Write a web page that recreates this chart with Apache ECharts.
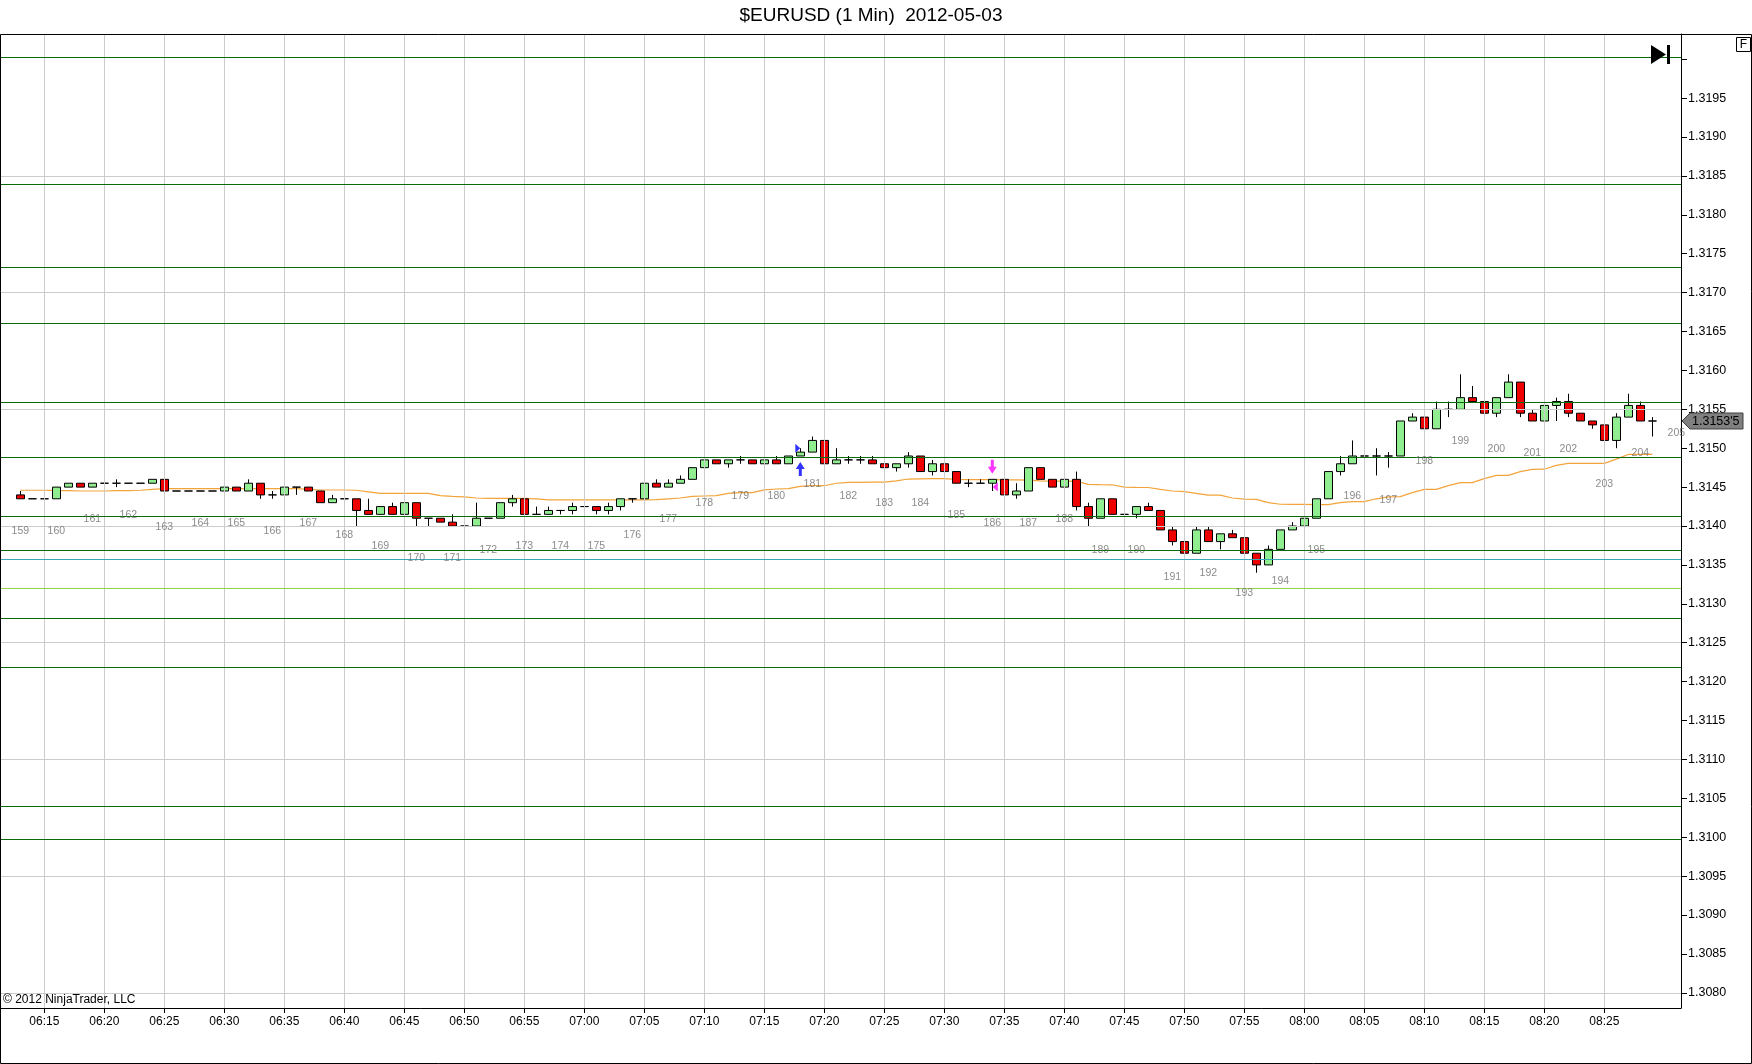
<!DOCTYPE html>
<html>
<head>
<meta charset="utf-8">
<title>$EURUSD (1 Min) 2012-05-03</title>
<script src="https://cdn.jsdelivr.net/npm/echarts@6.0.0/dist/echarts.min.js"></script>
<style>
html,body{margin:0;padding:0;background:#ffffff;}
#chart{width:1752px;height:1064px;}
</style>
</head>
<body>
<div id="chart"></div>
<script>
// ---------------- DATA ----------------
const chartTitle = '$EURUSD (1 Min)  2012-05-03';
const copyright = '\u00a9 2012 NinjaTrader, LLC';

const times = [
'06:13','06:14','06:15','06:16','06:17','06:18','06:19','06:20','06:21','06:22',
'06:23','06:24','06:25','06:26','06:27','06:28','06:29','06:30','06:31','06:32',
'06:33','06:34','06:35','06:36','06:37','06:38','06:39','06:40','06:41','06:42',
'06:43','06:44','06:45','06:46','06:47','06:48','06:49','06:50','06:51','06:52',
'06:53','06:54','06:55','06:56','06:57','06:58','06:59','07:00','07:01','07:02',
'07:03','07:04','07:05','07:06','07:07','07:08','07:09','07:10','07:11','07:12',
'07:13','07:14','07:15','07:16','07:17','07:18','07:19','07:20','07:21','07:22',
'07:23','07:24','07:25','07:26','07:27','07:28','07:29','07:30','07:31','07:32',
'07:33','07:34','07:35','07:36','07:37','07:38','07:39','07:40','07:41','07:42',
'07:43','07:44','07:45','07:46','07:47','07:48','07:49','07:50','07:51','07:52',
'07:53','07:54','07:55','07:56','07:57','07:58','07:59','08:00','08:01','08:02',
'08:03','08:04','08:05','08:06','08:07','08:08','08:09','08:10','08:11','08:12',
'08:13','08:14','08:15','08:16','08:17','08:18','08:19','08:20','08:21','08:22',
'08:23','08:24','08:25','08:26','08:27','08:28','08:29'];

const opens = [
1.31440,1.31435,1.31435,1.31435,1.31450,1.31455,1.31450,1.31455,1.31455,1.31455,
1.31455,1.31455,1.31460,1.31445,1.31445,1.31445,1.31445,1.31445,1.31450,1.31445,
1.31455,1.31440,1.31440,1.31450,1.31450,1.31445,1.31430,1.31435,1.31435,1.31420,
1.31415,1.31425,1.31415,1.31430,1.31410,1.31410,1.31405,1.31400,1.31400,1.31410,
1.31410,1.31430,1.31435,1.31415,1.31415,1.31420,1.31420,1.31425,1.31425,1.31420,
1.31425,1.31435,1.31435,1.31455,1.31450,1.31455,1.31460,1.31475,1.31485,1.31480,
1.31485,1.31485,1.31480,1.31485,1.31480,1.31490,1.31495,1.31510,1.31480,1.31485,
1.31485,1.31485,1.31480,1.31475,1.31480,1.31490,1.31470,1.31480,1.31470,1.31455,
1.31455,1.31455,1.31460,1.31440,1.31445,1.31475,1.31460,1.31450,1.31460,1.31425,
1.31410,1.31435,1.31415,1.31415,1.31425,1.31420,1.31395,1.31380,1.31365,1.31395,
1.31380,1.31390,1.31385,1.31365,1.31350,1.31370,1.31395,1.31400,1.31410,1.31435,
1.31470,1.31480,1.31490,1.31490,1.31490,1.31490,1.31535,1.31540,1.31525,1.31550,
1.31550,1.31565,1.31560,1.31545,1.31565,1.31585,1.31545,1.31535,1.31555,1.31560,
1.31545,1.31535,1.31530,1.31510,1.31540,1.31555,1.31535];

const highs = [
1.31445,1.31435,1.31435,1.31450,1.31455,1.31455,1.31455,1.31455,1.31460,1.31455,
1.31455,1.31460,1.31460,1.31445,1.31445,1.31445,1.31445,1.31460,1.31450,1.31460,
1.31455,1.31445,1.31450,1.31450,1.31450,1.31445,1.31440,1.31435,1.31435,1.31435,
1.31425,1.31430,1.31430,1.31430,1.31410,1.31410,1.31415,1.31400,1.31430,1.31410,
1.31430,1.31440,1.31435,1.31425,1.31425,1.31420,1.31430,1.31430,1.31425,1.31430,
1.31435,1.31435,1.31455,1.31460,1.31460,1.31465,1.31475,1.31485,1.31485,1.31485,
1.31490,1.31485,1.31485,1.31490,1.31490,1.31500,1.31515,1.31510,1.31500,1.31490,
1.31490,1.31490,1.31480,1.31480,1.31495,1.31490,1.31485,1.31480,1.31470,1.31460,
1.31460,1.31460,1.31460,1.31455,1.31475,1.31475,1.31460,1.31480,1.31470,1.31430,
1.31435,1.31435,1.31420,1.31425,1.31430,1.31420,1.31400,1.31380,1.31400,1.31400,
1.31390,1.31395,1.31390,1.31365,1.31375,1.31395,1.31405,1.31410,1.31435,1.31470,
1.31490,1.31510,1.31495,1.31500,1.31495,1.31535,1.31545,1.31570,1.31560,1.31560,
1.31595,1.31580,1.31560,1.31565,1.31595,1.31585,1.31550,1.31555,1.31565,1.31570,
1.31545,1.31535,1.31530,1.31545,1.31570,1.31560,1.31540];

const lows = [
1.31435,1.31435,1.31435,1.31435,1.31450,1.31450,1.31450,1.31455,1.31450,1.31455,
1.31455,1.31455,1.31440,1.31445,1.31445,1.31445,1.31445,1.31445,1.31445,1.31445,
1.31435,1.31435,1.31440,1.31440,1.31445,1.31430,1.31430,1.31430,1.31400,1.31415,
1.31415,1.31415,1.31410,1.31400,1.31400,1.31405,1.31400,1.31385,1.31400,1.31410,
1.31410,1.31425,1.31415,1.31415,1.31415,1.31415,1.31415,1.31420,1.31415,1.31415,
1.31420,1.31430,1.31430,1.31450,1.31450,1.31455,1.31460,1.31470,1.31480,1.31475,
1.31480,1.31480,1.31480,1.31480,1.31480,1.31490,1.31495,1.31475,1.31480,1.31480,
1.31480,1.31480,1.31470,1.31470,1.31475,1.31470,1.31465,1.31465,1.31455,1.31450,
1.31455,1.31445,1.31440,1.31435,1.31445,1.31460,1.31450,1.31450,1.31420,1.31400,
1.31410,1.31415,1.31415,1.31410,1.31420,1.31395,1.31375,1.31350,1.31365,1.31380,
1.31370,1.31385,1.31355,1.31340,1.31350,1.31370,1.31395,1.31395,1.31410,1.31435,
1.31465,1.31480,1.31475,1.31465,1.31475,1.31490,1.31535,1.31525,1.31525,1.31540,
1.31550,1.31560,1.31535,1.31540,1.31565,1.31540,1.31535,1.31525,1.31535,1.31540,
1.31535,1.31525,1.31495,1.31500,1.31540,1.31535,1.31515];

const closes = [
1.31435,1.31435,1.31435,1.31450,1.31455,1.31450,1.31455,1.31455,1.31455,1.31455,
1.31455,1.31460,1.31445,1.31445,1.31445,1.31445,1.31445,1.31450,1.31445,1.31455,
1.31440,1.31440,1.31450,1.31450,1.31445,1.31430,1.31435,1.31435,1.31420,1.31415,
1.31425,1.31415,1.31430,1.31410,1.31410,1.31405,1.31400,1.31400,1.31410,1.31410,
1.31430,1.31435,1.31415,1.31415,1.31420,1.31420,1.31425,1.31425,1.31420,1.31425,
1.31435,1.31435,1.31455,1.31450,1.31455,1.31460,1.31475,1.31485,1.31480,1.31485,
1.31485,1.31480,1.31485,1.31480,1.31490,1.31495,1.31510,1.31480,1.31485,1.31485,
1.31485,1.31480,1.31475,1.31480,1.31490,1.31470,1.31480,1.31470,1.31455,1.31455,
1.31455,1.31460,1.31440,1.31445,1.31475,1.31460,1.31450,1.31460,1.31425,1.31410,
1.31435,1.31415,1.31415,1.31425,1.31420,1.31395,1.31380,1.31365,1.31395,1.31380,
1.31390,1.31385,1.31365,1.31350,1.31370,1.31395,1.31400,1.31410,1.31435,1.31470,
1.31480,1.31490,1.31490,1.31490,1.31490,1.31535,1.31540,1.31525,1.31550,1.31550,
1.31565,1.31560,1.31545,1.31565,1.31585,1.31545,1.31535,1.31555,1.31560,1.31545,
1.31535,1.31530,1.31510,1.31540,1.31555,1.31535,1.31535];

const sma = [
1.31446,1.31446,1.31446,1.314455,1.314455,1.31445,1.31445,1.31445,1.314455,1.314455,
1.31446,1.31447,1.31448,1.31448,1.31448,1.31448,1.31448,1.31448,1.31448,1.31448,
1.31448,1.31448,1.31448,1.31448,1.31447,1.314463,1.314463,1.314463,1.31446,1.31444,
1.31442,1.31442,1.31442,1.31442,1.31442,1.31439,1.31438,1.314375,1.31436,1.314356,
1.314356,1.314356,1.314356,1.31435,1.314335,1.314335,1.314335,1.314335,1.314335,1.314335,
1.314335,1.314335,1.314335,1.31434,1.31435,1.31436,1.31438,1.314386,1.31439,1.31442,
1.314428,1.31443,1.314465,1.314476,1.31448,1.31451,1.314518,1.314518,1.31455,1.314561,
1.314561,1.314565,1.314565,1.31458,1.314604,1.314606,1.314608,1.314608,1.314598,1.314596,
1.314596,1.314596,1.314594,1.314592,1.31459,1.31458,1.314578,1.314578,1.314575,1.314535,
1.314531,1.31453,1.3145,1.314497,1.314495,1.31447,1.31445,1.314441,1.31442,1.314398,
1.314398,1.31436,1.314345,1.314343,1.3143,1.31428,1.314278,1.314278,1.314275,1.314275,
1.3143,1.314313,1.314313,1.31435,1.314375,1.314377,1.31443,1.31447,1.314471,1.31452,
1.314557,1.314557,1.31461,1.31465,1.314651,1.3147,1.314728,1.31473,1.31478,1.314805,
1.314805,1.314805,1.314805,1.31486,1.31492,1.31492,1.31492];

const barNumbers = [159,160,161,162,163,164,165,166,167,168,169,170,171,172,173,174,175,176,177,178,179,180,
  181,182,183,184,185,186,187,188,189,190,191,192,193,194,195,196,197,198,199,200,201,202,203,204,205];
const barNumberTimes = ['06:13','06:16','06:19','06:22','06:25','06:28','06:31','06:34','06:37','06:40','06:43',
  '06:46','06:49','06:52','06:55','06:58','07:01','07:04','07:07','07:10','07:13','07:16','07:19','07:22','07:25',
  '07:28','07:31','07:34','07:37','07:40','07:43','07:46','07:49','07:52','07:55','07:58','08:01','08:04','08:07',
  '08:10','08:13','08:16','08:19','08:22','08:25','08:28','08:31'];
const pendingBarAnchor = 1.31560; // bar 205 has not printed yet

const xTickLabels = ['06:15','06:20','06:25','06:30','06:35','06:40','06:45','06:50','06:55','07:00','07:05',
  '07:10','07:15','07:20','07:25','07:30','07:35','07:40','07:45','07:50','07:55','08:00','08:05','08:10',
  '08:15','08:20','08:25'];
const yTickLabels = ['1.3080','1.3085','1.3090','1.3095','1.3100','1.3105','1.3110','1.3115','1.3120','1.3125',
  '1.3130','1.3135','1.3140','1.3145','1.3150','1.3155','1.3160','1.3165','1.3170','1.3175','1.3180','1.3185',
  '1.3190','1.3195','1.3200'];

const levelPrices = [1.32003,1.31839,1.31733,1.31661,1.31559,1.31489,1.31413,1.31369,1.31357,1.31320,
  1.31281,1.31219,1.31040,1.30997];

const signalTimes = ['07:18','07:34'];
const signalSides = ['buy','sell'];
const fillPrices = [1.31500, 1.31450];

// ---------------- STYLE ----------------
const FONT = '"Liberation Sans", Arial, sans-serif';
const levelColors = ['#0b6a0b','#0b6a0b','#0b6a0b','#0b6a0b','#0b6a0b','#0b6a0b','#0b6a0b','#0b6a0b',
  '#3aa6b8','#92d445','#0b6a0b','#0b6a0b','#0b6a0b','#0b6a0b'];

const toMin = t => { const p = t.split(':'); return (+p[0]) * 60 + (+p[1]); };
const fmtMin = v => { const m = Math.round(v); return String(Math.floor(m / 60)).padStart(2, '0') + ':' + String(m % 60).padStart(2, '0'); };

const xMin = 371.392, xMax = 511.392;
const yMin = 1.307805, yMax = 1.320324;

const xTickVals = xTickLabels.map(toMin);
const yTickVals = yTickLabels.map(Number);
const yLabelVals = yTickVals.slice(0, yTickVals.length - 1);
const grayLevels = yLabelVals.filter((_, k) => k % 3 === 0);

const candleData = times.map((t, k) => [toMin(t), opens[k], closes[k], lows[k], highs[k]]);
const smaData = times.map((t, k) => [toMin(t), sma[k]]);
const barNumData = barNumbers.map((n, k) => {
  const idx = times.indexOf(barNumberTimes[k]);
  const anchor = idx >= 0 ? lows[idx] : pendingBarAnchor;
  return { value: [toMin(barNumberTimes[k]), anchor], n: n };
});

const upArrow = 'path://M4.5,0 L9,7 L6,7 L6,14 L3,14 L3,7 L0,7 Z';
const downArrow = 'path://M3,0 L6,0 L6,7 L9,7 L4.5,14 L0,7 L3,7 Z';
const triRight = 'path://M0,0 L5,4.5 L0,9 Z';
const triLeft = 'path://M5,0 L0,4.5 L5,9 Z';
const signalData = [];
signalTimes.forEach((t, k) => {
  const idx = times.indexOf(t);
  const buy = signalSides[k] === 'buy';
  const col = buy ? '#0000ff' : '#ff00ff';
  signalData.push({ value: [toMin(t), buy ? lows[idx] : highs[idx]], symbol: buy ? upArrow : downArrow,
    symbolSize: [9, 14], symbolOffset: [0, buy ? 13 : -12.5], itemStyle: { color: col } });
  signalData.push({ value: [toMin(t), fillPrices[k]], symbol: buy ? triRight : triLeft,
    symbolSize: [5, 9], symbolOffset: [buy ? -2.5 : 3, 0], itemStyle: { color: col } });
});

const markLineBase = { silent: true, symbol: ['none', 'none'], label: { show: false }, animation: false,
  precision: 8, emphasis: { disabled: true } };

const chart = echarts.init(document.getElementById('chart'), null, { renderer: 'canvas' });

const option = {
  animation: false,
  backgroundColor: '#ffffff',
  grid: { left: 1, right: 71, top: 34, bottom: 56, containLabel: false, show: false },
  xAxis: {
    type: 'value', min: xMin, max: xMax,
    axisLine: { show: true, onZero: false, lineStyle: { color: '#000', width: 1 } },
    axisTick: { show: true, length: 5, customValues: xTickVals, lineStyle: { color: '#000' } },
    axisLabel: { show: true, customValues: xTickVals, formatter: v => fmtMin(v), margin: 8,
      color: '#000', fontSize: 12, fontFamily: FONT },
    splitLine: { show: false }
  },
  yAxis: {
    type: 'value', position: 'right', min: yMin, max: yMax,
    axisLine: { show: true, onZero: false, lineStyle: { color: '#000', width: 1 } },
    axisTick: { show: true, length: 6, customValues: yTickVals, lineStyle: { color: '#000' } },
    axisLabel: { show: true, customValues: yLabelVals, formatter: v => Number(v).toFixed(4), margin: 7,
      color: '#000', fontSize: 12.5, fontFamily: FONT, align: 'left' },
    splitLine: { show: false }
  },
  series: [
    { type: 'line', name: 'grid', data: [], silent: true, z: 1,
      markLine: Object.assign({}, markLineBase, {
        lineStyle: { color: '#cccccc', width: 1, type: 'solid' },
        data: xTickVals.map(v => ({ xAxis: v })).concat(grayLevels.map(v => ({ yAxis: v })))
      }) },
    { type: 'line', name: 'levels', data: [], silent: true, z: 2,
      markLine: Object.assign({}, markLineBase, {
        lineStyle: { width: 1, type: 'solid' },
        data: levelPrices.map((v, k) => ({ yAxis: v, lineStyle: { color: levelColors[k], width: 1, type: 'solid' } }))
      }) },
    { type: 'line', name: 'SMA', data: smaData, showSymbol: false, symbol: 'none', silent: true, z: 3,
      lineStyle: { color: '#f2a43a', width: 1.2 } },
    { type: 'candlestick', name: '$EURUSD', data: candleData, barWidth: 8, silent: true, z: 4,
      itemStyle: { color: '#90ee90', color0: '#ee0000', borderColor: '#000', borderColor0: '#000',
        borderColorDoji: '#000', borderWidth: 1 } },
    { type: 'scatter', name: 'barNumbers', data: barNumData, symbol: 'circle', symbolSize: 1, silent: true, z: 5,
      itemStyle: { color: 'rgba(0,0,0,0)' },
      label: { show: true, position: 'inside', offset: [0, 32], formatter: p => String(p.data.n),
        color: '#6e6e6e', fontSize: 10.5, fontFamily: FONT } },
    { type: 'scatter', name: 'signals', data: signalData, silent: true, z: 6 }
  ]
};
chart.setOption(option);

const lastClose = closes[closes.length - 1];
const py = chart.convertToPixel({ yAxisIndex: 0 }, lastClose);
const fx = lastClose.toFixed(5);
const tagText = fx.slice(0, fx.length - 1) + "'" + fx.slice(fx.length - 1);

chart.setOption({
  graphic: [
    { type: 'text', x: 871, y: 16, z: 10,
      style: { text: chartTitle, fontSize: 19, fontFamily: FONT, fill: '#000', align: 'center', verticalAlign: 'middle' } },
    { type: 'rect', z: 10, shape: { x: 0.5, y: 34.5, width: 1751, height: 1029 },
      style: { fill: null, stroke: '#000', lineWidth: 1 } },
    { type: 'text', x: 3, y: 1000, z: 10,
      style: { text: copyright, fontSize: 12, fontFamily: FONT, fill: '#000', verticalAlign: 'middle' } },
    { type: 'polygon', z: 10, shape: { points: [[1651, 45], [1666, 54.5], [1651, 64]] }, style: { fill: '#000' } },
    { type: 'rect', z: 10, shape: { x: 1667, y: 45, width: 3, height: 19 }, style: { fill: '#000' } },
    { type: 'rect', z: 10, shape: { x: 1736.5, y: 37.5, width: 14, height: 14 },
      style: { fill: '#fff', stroke: '#000', lineWidth: 1 } },
    { type: 'text', z: 11, x: 1743.5, y: 45,
      style: { text: 'F', fontSize: 12, fontFamily: FONT, fill: '#000', align: 'center', verticalAlign: 'middle' } },
    { type: 'polygon', z: 12,
      shape: { points: [[1682, py], [1690, py - 8], [1743, py - 8], [1743, py + 8], [1690, py + 8]] },
      style: { fill: '#808080', stroke: '#404040', lineWidth: 1 } },
    { type: 'text', z: 13, x: 1692, y: py + 0.5,
      style: { text: tagText, fontSize: 12.5, fontFamily: FONT, fill: '#000', verticalAlign: 'middle' } }
  ]
});
</script>
</body>
</html>
